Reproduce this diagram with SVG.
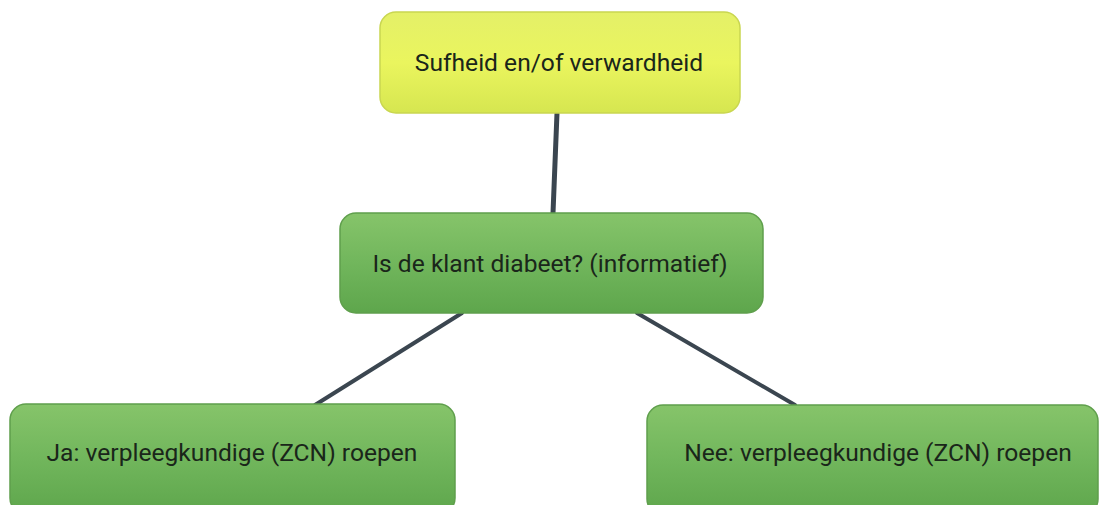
<svg xmlns="http://www.w3.org/2000/svg" width="1102" height="505" viewBox="0 0 1102 505">
<style>
.lbl{font-family:Roboto,"Liberation Sans",sans-serif;font-size:24.6px;fill:#1a261a;text-anchor:middle;dominant-baseline:central}
.conn{stroke:#3b4650;stroke-linecap:round;fill:none}
</style>
<defs>
<linearGradient id="gy" x1="0" y1="0" x2="0" y2="1">
<stop offset="0" stop-color="#e4f068"/><stop offset="0.5" stop-color="#eaf55e"/><stop offset="1" stop-color="#d6e650"/>
</linearGradient>
<linearGradient id="gg" x1="0" y1="0" x2="0" y2="1">
<stop offset="0" stop-color="#86c46a"/><stop offset="0.5" stop-color="#71b65c"/><stop offset="1" stop-color="#5ea64c"/>
</linearGradient>
</defs>
<g id="connectors">
<path class="conn" d="M557 113 L553 213" stroke-width="5"/>
<path class="conn" d="M462 313 L315 405" stroke-width="4"/>
<path class="conn" d="M637 313 L795 405" stroke-width="4"/>
</g>
<g id="n1">
<rect x="380" y="12" width="360" height="101" rx="16" fill="url(#gy)" stroke="#c9d650" stroke-width="1.5"/>
<text class="lbl" x="559" y="62">Sufheid en/of verwardheid</text>
</g>
<g id="n2">
<rect x="340" y="213" width="423" height="100" rx="16" fill="url(#gg)" stroke="#5f9f4c" stroke-width="1.5"/>
<text class="lbl" x="550" y="263">Is de klant diabeet? (informatief)</text>
</g>
<g id="n3">
<rect x="10" y="404" width="445" height="110" rx="16" fill="url(#gg)" stroke="#5f9f4c" stroke-width="1.5"/>
<text class="lbl" x="232" y="452">Ja: verpleegkundige (ZCN) roepen</text>
</g>
<g id="n4">
<rect x="647" y="405" width="451" height="110" rx="16" fill="url(#gg)" stroke="#5f9f4c" stroke-width="1.5"/>
<text class="lbl" x="878" y="452">Nee: verpleegkundige (ZCN) roepen</text>
</g>
</svg>
